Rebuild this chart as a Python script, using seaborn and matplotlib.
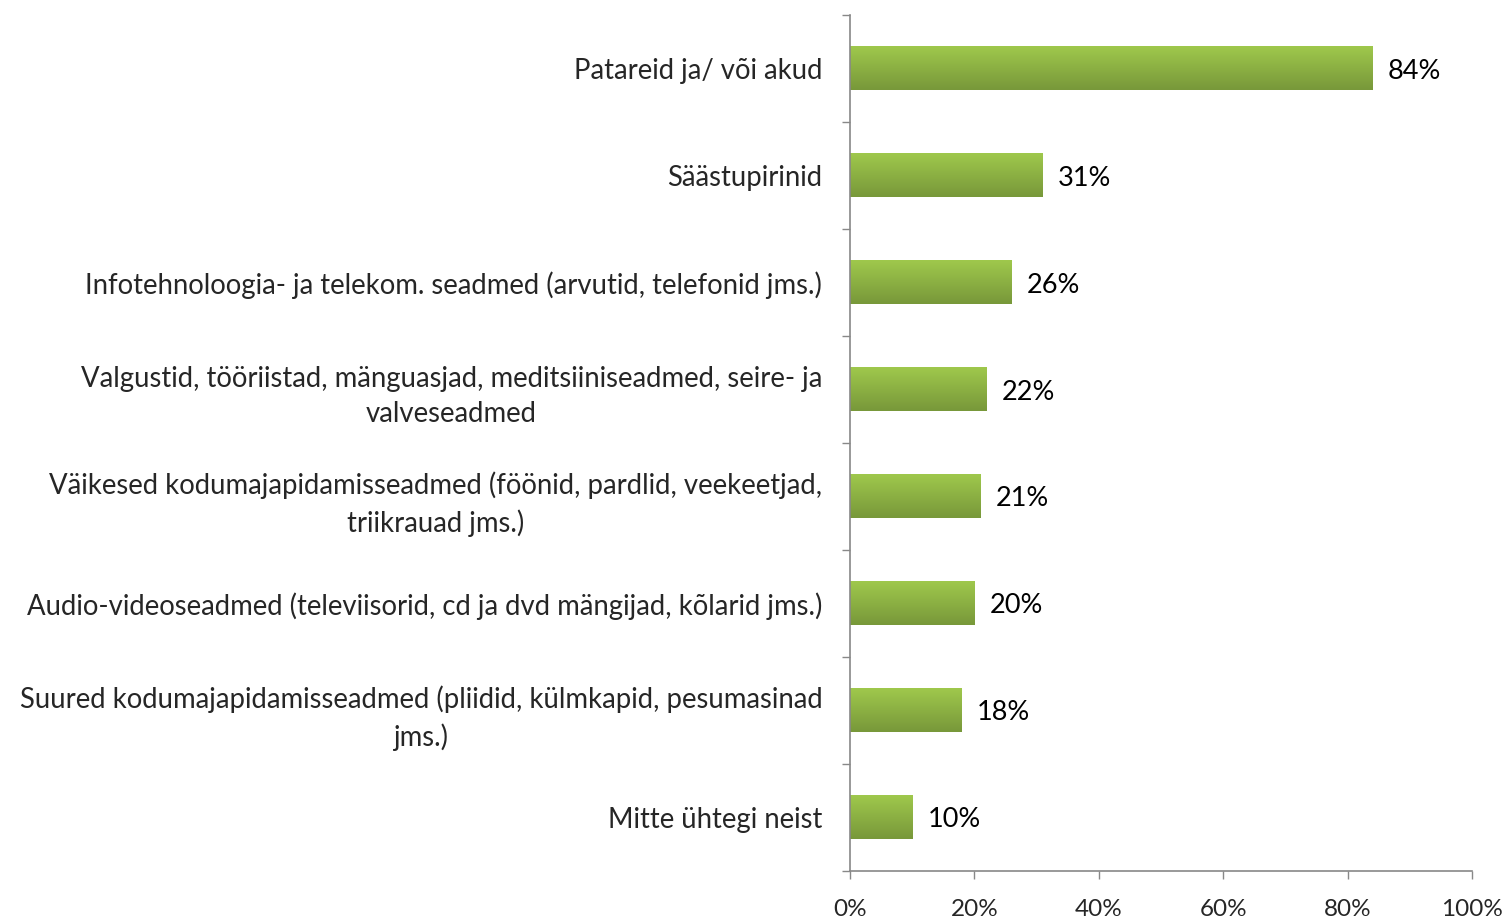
import matplotlib.pyplot as plt
import seaborn as sns
import numpy as np
import pandas as pd
from matplotlib.colors import LinearSegmentedColormap

categories = [
    'Patareid ja/ või akud',
    'Säästupirinid',
    'Infotehnoloogia- ja telekom. seadmed (arvutid, telefonid jms.)',
    'Valgustid, tööriistad, mänguasjad, meditsiiniseadmed, seire- ja\nvalveseadmed',
    'Väikesed kodumajapidamisseadmed (föönid, pardlid, veekeetjad,\ntriikrauad jms.)',
    'Audio-videoseadmed (televiisorid, cd ja dvd mängijad, kõlarid jms.)',
    'Suured kodumajapidamisseadmed (pliidid, külmkapid, pesumasinad\njms.)',
    'Mitte ühtegi neist',
]
values = [84, 31, 26, 22, 21, 20, 18, 10]
x_ticks = [0, 20, 40, 60, 80, 100]

df = pd.DataFrame({'category': categories, 'value': values})

sns.set_style('white')
plt.rcParams['font.family'] = ['Lato', 'DejaVu Sans']

fig = plt.figure(figsize=(15.04, 9.17), dpi=100)
ax = fig.add_axes([0.5652, 0.0502, 0.4135, 0.9334])

sns.barplot(data=df, x='value', y='category', color='#8cb244', width=0.41, ax=ax)

# gradient fill over each bar
cmap = LinearSegmentedColormap.from_list('g', ['#9fc84c', '#78983a'])
grad = np.linspace(0, 1, 64).reshape(-1, 1)
for p in ax.patches:
    x0, y0 = p.get_x(), p.get_y()
    w, h = p.get_width(), p.get_height()
    ax.imshow(grad, cmap=cmap, aspect='auto', extent=(x0, x0 + w, y0 + h, y0),
              zorder=p.get_zorder() + 0.1)

ax.set_xlim(0, 100)
ax.set_ylim(len(categories) - 0.5, -0.5)

for c in ax.containers:
    texts = ax.bar_label(c, labels=[f'{v}%' for v in values], padding=11,
                         fontsize=19.5, color='black')
    for t in texts:
        t.set_va('center_baseline')

ax.set_xticks(x_ticks)
ax.set_xticklabels([f'{t}%' for t in x_ticks], fontsize=17.5)
ax.set_yticks(range(len(categories)))
ax.set_yticklabels(categories, fontsize=19.8, multialignment='center', linespacing=1.45)
ax.set_yticks(np.arange(-0.5, len(categories)), minor=True)

ax.tick_params(axis='y', which='major', length=0, pad=20)
ax.tick_params(axis='y', which='minor', length=6, color='#888888', width=1, left=True)
ax.tick_params(axis='x', which='major', length=6, color='#888888', width=1, bottom=True, pad=14)

ax.set_xlabel('')
ax.set_ylabel('')
for side in ['top', 'right']:
    ax.spines[side].set_visible(False)
for side in ['left', 'bottom']:
    ax.spines[side].set_color('#888888')
    ax.spines[side].set_linewidth(1.2)

fig.savefig('out.png', dpi=100)
